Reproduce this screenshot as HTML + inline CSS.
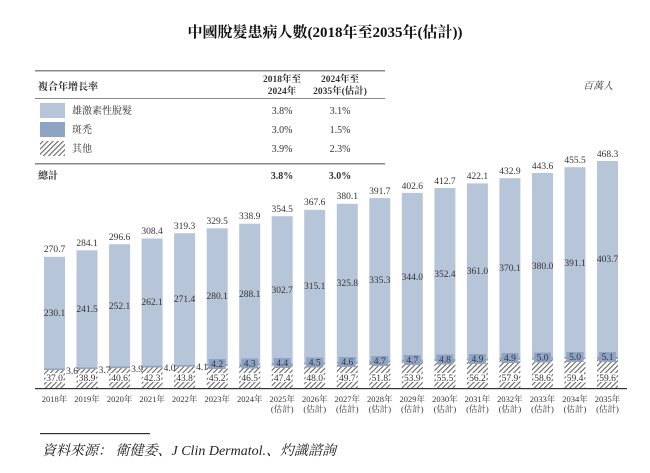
<!DOCTYPE html>
<html><head><meta charset="utf-8"><style>
body{margin:0;background:#fff;}
svg text{font-family:"Liberation Serif","Noto Serif CJK SC","Noto Sans CJK TC",serif;fill:#333;}
</style></head><body>
<svg width="650" height="468" viewBox="0 0 650 468" xmlns="http://www.w3.org/2000/svg">
<defs>
<pattern id="h" patternUnits="userSpaceOnUse" width="3.6" height="3.6" patternTransform="rotate(45)">
<rect width="3.6" height="3.6" fill="#fff"/><rect width="1.1" height="3.6" fill="#666"/>
</pattern>
</defs>
<text x="325" y="37" font-size="15" font-weight="bold" text-anchor="middle" style="fill:#111">中國脫髮患病人數(2018年至2035年(估計))</text>
<rect x="35" y="70" width="350" height="1.5" fill="#888"/>
<text x="38" y="90" font-size="10" font-weight="bold">複合年增長率</text>
<text x="282" y="82" font-size="9.5" font-weight="bold" text-anchor="middle">2018年至</text>
<text x="282" y="94" font-size="9.5" font-weight="bold" text-anchor="middle">2024年</text>
<text x="340" y="82" font-size="9.5" font-weight="bold" text-anchor="middle">2024年至</text>
<text x="340" y="94" font-size="9.5" font-weight="bold" text-anchor="middle">2035年(估計)</text>
<rect x="35" y="98" width="350" height="1" fill="#888"/>
<rect x="40" y="103" width="25" height="15" fill="#b7c5d9"/>
<text x="72" y="114" font-size="10">雄激素性脫髮</text>
<text x="282" y="114" font-size="10" text-anchor="middle">3.8%</text>
<text x="340" y="114" font-size="10" text-anchor="middle">3.1%</text>
<rect x="40" y="122" width="25" height="15" fill="#8fa4c4"/>
<text x="72" y="133" font-size="10">斑禿</text>
<text x="282" y="133" font-size="10" text-anchor="middle">3.0%</text>
<text x="340" y="133" font-size="10" text-anchor="middle">1.5%</text>
<rect x="40" y="141" width="25" height="15" fill="url(#h)"/>
<text x="72" y="152" font-size="10">其他</text>
<text x="282" y="152" font-size="10" text-anchor="middle">3.9%</text>
<text x="340" y="152" font-size="10" text-anchor="middle">2.3%</text>
<rect x="35" y="163" width="350" height="1.5" fill="#888"/>
<text x="38" y="179" font-size="10" font-weight="bold">總計</text>
<text x="282" y="179" font-size="10" font-weight="bold" text-anchor="middle">3.8%</text>
<text x="340" y="179" font-size="10" font-weight="bold" text-anchor="middle">3.0%</text>
<text x="598" y="89" font-size="10" font-style="italic" text-anchor="middle">百萬人</text>
<g>
<rect x="44" y="256.8" width="21" height="111.5" fill="#b7c5d9"/><rect x="44" y="368.3" width="21" height="1.8" fill="#8fa4c4"/><rect x="44" y="370.1" width="21" height="17.9" fill="url(#h)"/>
<rect x="76.5" y="250.3" width="21" height="117" fill="#b7c5d9"/><rect x="76.5" y="367.3" width="21" height="1.8" fill="#8fa4c4"/><rect x="76.5" y="369.1" width="21" height="18.9" fill="url(#h)"/>
<rect x="109.1" y="244.2" width="21" height="122.2" fill="#b7c5d9"/><rect x="109.1" y="366.4" width="21" height="1.9" fill="#8fa4c4"/><rect x="109.1" y="368.3" width="21" height="19.7" fill="url(#h)"/>
<rect x="141.6" y="238.5" width="21" height="127.1" fill="#b7c5d9"/><rect x="141.6" y="365.6" width="21" height="1.9" fill="#8fa4c4"/><rect x="141.6" y="367.5" width="21" height="20.5" fill="url(#h)"/>
<rect x="174.1" y="233.2" width="21" height="131.6" fill="#b7c5d9"/><rect x="174.1" y="364.8" width="21" height="2" fill="#8fa4c4"/><rect x="174.1" y="366.8" width="21" height="21.2" fill="url(#h)"/>
<rect x="206.7" y="228.3" width="21" height="135.8" fill="#b7c5d9"/><rect x="206.7" y="364.1" width="21" height="2" fill="#8fa4c4"/><rect x="206.7" y="366.1" width="21" height="21.9" fill="url(#h)"/>
<rect x="239.2" y="223.7" width="21" height="139.7" fill="#b7c5d9"/><rect x="239.2" y="363.4" width="21" height="2.1" fill="#8fa4c4"/><rect x="239.2" y="365.5" width="21" height="22.5" fill="url(#h)"/>
<rect x="271.7" y="216.2" width="21" height="146.7" fill="#b7c5d9"/><rect x="271.7" y="362.9" width="21" height="2.1" fill="#8fa4c4"/><rect x="271.7" y="365" width="21" height="23" fill="url(#h)"/>
<rect x="304.2" y="209.8" width="21" height="152.7" fill="#b7c5d9"/><rect x="304.2" y="362.5" width="21" height="2.2" fill="#8fa4c4"/><rect x="304.2" y="364.7" width="21" height="23.3" fill="url(#h)"/>
<rect x="336.8" y="203.8" width="21" height="157.9" fill="#b7c5d9"/><rect x="336.8" y="361.7" width="21" height="2.2" fill="#8fa4c4"/><rect x="336.8" y="363.9" width="21" height="24.1" fill="url(#h)"/>
<rect x="369.3" y="198.1" width="21" height="162.5" fill="#b7c5d9"/><rect x="369.3" y="360.6" width="21" height="2.3" fill="#8fa4c4"/><rect x="369.3" y="362.9" width="21" height="25.1" fill="url(#h)"/>
<rect x="401.8" y="192.9" width="21" height="166.7" fill="#b7c5d9"/><rect x="401.8" y="359.6" width="21" height="2.3" fill="#8fa4c4"/><rect x="401.8" y="361.9" width="21" height="26.1" fill="url(#h)"/>
<rect x="434.4" y="188" width="21" height="170.8" fill="#b7c5d9"/><rect x="434.4" y="358.8" width="21" height="2.3" fill="#8fa4c4"/><rect x="434.4" y="361.1" width="21" height="26.9" fill="url(#h)"/>
<rect x="466.9" y="183.4" width="21" height="175" fill="#b7c5d9"/><rect x="466.9" y="358.4" width="21" height="2.4" fill="#8fa4c4"/><rect x="466.9" y="360.8" width="21" height="27.2" fill="url(#h)"/>
<rect x="499.4" y="178.2" width="21" height="179.3" fill="#b7c5d9"/><rect x="499.4" y="357.5" width="21" height="2.4" fill="#8fa4c4"/><rect x="499.4" y="359.9" width="21" height="28.1" fill="url(#h)"/>
<rect x="532" y="173" width="21" height="184.2" fill="#b7c5d9"/><rect x="532" y="357.2" width="21" height="2.4" fill="#8fa4c4"/><rect x="532" y="359.6" width="21" height="28.4" fill="url(#h)"/>
<rect x="564.5" y="167.2" width="21" height="189.6" fill="#b7c5d9"/><rect x="564.5" y="356.8" width="21" height="2.4" fill="#8fa4c4"/><rect x="564.5" y="359.2" width="21" height="28.8" fill="url(#h)"/>
<rect x="597" y="161" width="21" height="195.6" fill="#b7c5d9"/><rect x="597" y="356.6" width="21" height="2.5" fill="#8fa4c4"/><rect x="597" y="359.1" width="21" height="28.9" fill="url(#h)"/>
</g>
<g fill="#8fa4c4">
<rect x="208.7" y="359" width="17" height="10"/><rect x="241.2" y="358.5" width="17" height="10"/><rect x="273.7" y="358" width="17" height="10"/><rect x="306.2" y="357.5" width="17" height="10"/><rect x="338.8" y="357" width="17" height="10"/><rect x="371.3" y="356" width="17" height="10"/><rect x="403.8" y="355" width="17" height="10"/><rect x="436.4" y="354.5" width="17" height="10"/><rect x="468.9" y="354" width="17" height="10"/><rect x="501.4" y="353" width="17" height="10"/><rect x="534" y="352.5" width="17" height="10"/><rect x="566.5" y="352" width="17" height="10"/><rect x="599" y="352" width="17" height="10"/>
</g>
<g fill="#fff">
<rect x="45.5" y="373" width="18" height="9"/><rect x="78" y="373" width="18" height="9"/><rect x="110.6" y="373" width="18" height="9"/><rect x="143.1" y="373" width="18" height="9"/><rect x="175.6" y="373" width="18" height="9"/><rect x="208.2" y="373" width="18" height="9"/><rect x="240.7" y="373" width="18" height="9"/><rect x="273.2" y="373" width="18" height="9"/><rect x="305.7" y="373" width="18" height="9"/><rect x="338.3" y="373" width="18" height="9"/><rect x="370.8" y="373" width="18" height="9"/><rect x="403.3" y="373" width="18" height="9"/><rect x="435.9" y="373" width="18" height="9"/><rect x="468.4" y="373" width="18" height="9"/><rect x="500.9" y="373" width="18" height="9"/><rect x="533.5" y="373" width="18" height="9"/><rect x="566" y="373" width="18" height="9"/><rect x="598.5" y="373" width="18" height="9"/>
</g>
<rect x="35" y="388" width="592" height="1.2" fill="#333"/>
<g font-size="9.5" text-anchor="middle">
<text x="54.5" y="252">270.7</text><text x="87" y="246">284.1</text><text x="119.6" y="240">296.6</text><text x="152.1" y="234">308.4</text><text x="184.6" y="229">319.3</text><text x="217.2" y="224">329.5</text><text x="249.7" y="219">338.9</text><text x="282.2" y="212">354.5</text><text x="314.7" y="205">367.6</text><text x="347.3" y="199">380.1</text><text x="379.8" y="194">391.7</text><text x="412.3" y="189">402.6</text><text x="444.9" y="184">412.7</text><text x="477.4" y="179">422.1</text><text x="509.9" y="174">432.9</text><text x="542.5" y="169">443.6</text><text x="575" y="163">455.5</text><text x="607.5" y="157">468.3</text>
<text x="54.5" y="316">230.1</text><text x="87" y="312">241.5</text><text x="119.6" y="309">252.1</text><text x="152.1" y="305">262.1</text><text x="184.6" y="302">271.4</text><text x="217.2" y="299">280.1</text><text x="249.7" y="297">288.1</text><text x="282.2" y="293">302.7</text><text x="314.7" y="289">315.1</text><text x="347.3" y="286">325.8</text><text x="379.8" y="283">335.3</text><text x="412.3" y="280">344.0</text><text x="444.9" y="277">352.4</text><text x="477.4" y="274">361.0</text><text x="509.9" y="271">370.1</text><text x="542.5" y="269">380.0</text><text x="575" y="266">391.1</text><text x="607.5" y="262">403.7</text>
<text x="72" y="374">3.6</text><text x="104.5" y="373">3.7</text><text x="137" y="372">3.9</text><text x="169.5" y="371">4.0</text><text x="202" y="370">4.1</text>
<text x="217.2" y="367">4.2</text><text x="249.7" y="366.5">4.3</text><text x="282.2" y="366">4.4</text><text x="314.7" y="365.5">4.5</text><text x="347.3" y="365">4.6</text><text x="379.8" y="364">4.7</text><text x="412.3" y="363">4.7</text><text x="444.9" y="362.5">4.8</text><text x="477.4" y="362">4.9</text><text x="509.9" y="361">4.9</text><text x="542.5" y="360.5">5.0</text><text x="575" y="360">5.0</text><text x="607.5" y="360">5.1</text>
<text x="54.5" y="381">37.0</text><text x="87" y="381">38.9</text><text x="119.6" y="381">40.6</text><text x="152.1" y="381">42.3</text><text x="184.6" y="381">43.8</text><text x="217.2" y="381">45.2</text><text x="249.7" y="381">46.5</text><text x="282.2" y="381">47.4</text><text x="314.7" y="381">48.0</text><text x="347.3" y="381">49.7</text><text x="379.8" y="381">51.8</text><text x="412.3" y="381">53.9</text><text x="444.9" y="381">55.5</text><text x="477.4" y="381">56.2</text><text x="509.9" y="381">57.9</text><text x="542.5" y="381">58.6</text><text x="575" y="381">59.4</text><text x="607.5" y="381">59.6</text>
</g>
<g font-size="8.5" text-anchor="middle">
<text x="54.5" y="402">2018年</text><text x="87" y="402">2019年</text><text x="119.6" y="402">2020年</text><text x="152.1" y="402">2021年</text><text x="184.6" y="402">2022年</text><text x="217.2" y="402">2023年</text><text x="249.7" y="402">2024年</text>
<text x="282.2" y="402">2025年</text><text x="314.7" y="402">2026年</text><text x="347.3" y="402">2027年</text><text x="379.8" y="402">2028年</text><text x="412.3" y="402">2029年</text><text x="444.9" y="402">2030年</text><text x="477.4" y="402">2031年</text><text x="509.9" y="402">2032年</text><text x="542.5" y="402">2033年</text><text x="575" y="402">2034年</text><text x="607.5" y="402">2035年</text>
<text x="282.2" y="412">(估計)</text><text x="314.7" y="412">(估計)</text><text x="347.3" y="412">(估計)</text><text x="379.8" y="412">(估計)</text><text x="412.3" y="412">(估計)</text><text x="444.9" y="412">(估計)</text><text x="477.4" y="412">(估計)</text><text x="509.9" y="412">(估計)</text><text x="542.5" y="412">(估計)</text><text x="575" y="412">(估計)</text><text x="607.5" y="412">(估計)</text>
</g>
<rect x="40" y="433" width="110" height="1.2" fill="#333"/>
<text x="42" y="455" font-size="14" font-style="italic" style="fill:#222">資料來源： 衛健委、J Clin Dermatol.、灼識諮詢</text>
</svg>
</body></html>
